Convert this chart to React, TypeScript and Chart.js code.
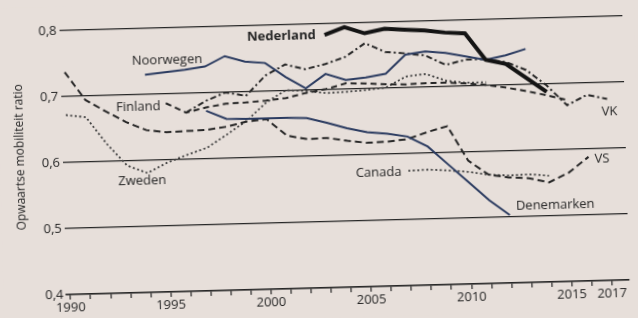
import React, { useEffect, useRef } from "react";
import { Chart, registerables } from "chart.js";

Chart.register(...registerables);

// ---------- data ----------
const nederlandYears = [2003, 2004, 2005, 2006, 2007, 2008, 2009, 2010, 2011, 2012, 2013, 2014];
const nederlandValues = [0.783, 0.794, 0.784, 0.79, 0.788, 0.786, 0.782, 0.78, 0.739, 0.732, 0.71, 0.688];

const noorwegenYears = [1994, 1995, 1996, 1997, 1998, 1999, 2000, 2001, 2002, 2003, 2004, 2005, 2006, 2007, 2008, 2009, 2010, 2011, 2012, 2013];
const noorwegenValues = [0.73, 0.733, 0.736, 0.74, 0.755, 0.746, 0.743, 0.721, 0.703, 0.724, 0.714, 0.717, 0.722, 0.75, 0.754, 0.751, 0.745, 0.739, 0.745, 0.754];

const denemarkenYears = [1997, 1998, 1999, 2000, 2001, 2002, 2003, 2004, 2005, 2006, 2007, 2008, 2009, 2010, 2011, 2012];
const denemarkenValues = [0.673, 0.66, 0.659, 0.659, 0.659, 0.658, 0.65, 0.641, 0.634, 0.631, 0.626, 0.61, 0.582, 0.554, 0.526, 0.503];

const finlandYears = [1995, 1996, 1997, 1998, 1999, 2000, 2001, 2002, 2003, 2004, 2005, 2006, 2007, 2008, 2009, 2010, 2011, 2012, 2013, 2014, 2015];
const finlandValues = [0.686, 0.671, 0.678, 0.683, 0.684, 0.686, 0.689, 0.696, 0.701, 0.709, 0.708, 0.706, 0.705, 0.706, 0.706, 0.704, 0.701, 0.696, 0.69, 0.683, 0.675];

const vkYears = [1996, 1997, 1998, 1999, 2000, 2001, 2002, 2003, 2004, 2005, 2006, 2007, 2008, 2009, 2010, 2011, 2012, 2013, 2014, 2015, 2016, 2017];
const vkValues = [0.671, 0.688, 0.7, 0.694, 0.724, 0.74, 0.732, 0.739, 0.749, 0.769, 0.755, 0.752, 0.748, 0.733, 0.74, 0.74, 0.735, 0.722, 0.698, 0.667, 0.682, 0.675];

const vsYears = [1990, 1991, 1992, 1993, 1994, 1995, 1996, 1997, 1998, 1999, 2000, 2001, 2002, 2003, 2004, 2005, 2006, 2007, 2008, 2009, 2010, 2011, 2012, 2013, 2014, 2015, 2016];
const vsValues = [0.737, 0.694, 0.676, 0.659, 0.646, 0.642, 0.643, 0.644, 0.648, 0.655, 0.658, 0.632, 0.626, 0.627, 0.622, 0.618, 0.619, 0.622, 0.632, 0.64, 0.587, 0.565, 0.56, 0.558, 0.551, 0.565, 0.588];

const zwedenYears = [1990, 1991, 1992, 1993, 1994, 1995, 1996, 1997, 1998, 1999, 2000, 2001, 2002, 2003, 2004, 2005, 2006, 2007, 2008, 2009, 2010, 2011];
const zwedenValues = [0.672, 0.668, 0.627, 0.593, 0.581, 0.596, 0.607, 0.617, 0.636, 0.656, 0.683, 0.701, 0.699, 0.695, 0.696, 0.698, 0.701, 0.717, 0.72, 0.709, 0.705, 0.705];

const canadaYears = [2007, 2008, 2009, 2010, 2011, 2012, 2013, 2014];
const canadaValues = [0.574, 0.575, 0.573, 0.57, 0.565, 0.563, 0.564, 0.561];

const xTickYears = [1990, 1991, 1992, 1993, 1994, 1995, 1996, 1997, 1998, 1999, 2000, 2001, 2002, 2003, 2004, 2005, 2006, 2007, 2008, 2009, 2010, 2011, 2012, 2013, 2014, 2015, 2016, 2017];
const xLabelYears = [1990, 1995, 2000, 2005, 2010, 2015, 2017];
const yTickValues = [0.4, 0.5, 0.6, 0.7, 0.8];

const labelNames = ["Nederland", "Noorwegen", "Finland", "Zweden", "Canada", "Denemarken", "VK", "VS"];
const labelYears = [2000.85, 1995.12, 1993.63, 1993.73, 2005.52, 2014.28, 2017.1, 2016.67];
const labelValues = [0.7835, 0.7515, 0.681, 0.5694, 0.5723, 0.5165, 0.6557, 0.585];

// ---------- styles ----------
const PAPER = "#e7dfda";
const INK = "#262626";
const BLUE = "#2b3b60";
const FONT = '"Open Sans", "Noto Sans", "DejaVu Sans", sans-serif';

function series(label: string, years: number[], values: number[], color: string, width: number, dash: number[], order: number) {
  return {
    label,
    data: years.map((x, i) => ({ x, y: values[i] })),
    borderColor: color,
    backgroundColor: color,
    borderWidth: width,
    borderDash: dash,
    pointRadius: 0,
    pointHoverRadius: 0,
    fill: false,
    tension: 0,
    order,
  };
}

const labelPlugin = {
  id: "seriesLabels",
  afterDatasetsDraw(chart: any) {
    const { ctx, scales } = chart;
    const x = scales.x;
    const y = scales.y;
    ctx.save();
    ctx.fillStyle = INK;
    ctx.textAlign = "center";
    ctx.textBaseline = "middle";
    labelNames.forEach((name, i) => {
      ctx.font = `${i === 0 ? "bold " : ""}13px ${FONT}`;
      ctx.fillText(name, x.getPixelForValue(labelYears[i]), y.getPixelForValue(labelValues[i]));
    });
    ctx.restore();
  },
};

export default function App() {
  const ref = useRef<HTMLCanvasElement>(null);

  useEffect(() => {
    document.body.style.margin = "0";
    document.body.style.background = PAPER;
    document.body.style.overflow = "hidden";
    document.documentElement.style.overflow = "hidden";

    const chart = new Chart(ref.current as HTMLCanvasElement, {
      type: "line",
      data: {
        datasets: [
          series("Nederland", nederlandYears, nederlandValues, "#141414", 4, [], 0),
          series("Noorwegen", noorwegenYears, noorwegenValues, BLUE, 2, [], 1),
          series("Denemarken", denemarkenYears, denemarkenValues, BLUE, 2, [], 1),
          series("Finland", finlandYears, finlandValues, INK, 2, [6, 4], 2),
          series("VK", vkYears, vkValues, INK, 2, [6, 3, 2, 3], 2),
          series("VS", vsYears, vsValues, INK, 2, [7, 4], 2),
          series("Zweden", zwedenYears, zwedenValues, "#404040", 1.8, [2, 2.5], 3),
          series("Canada", canadaYears, canadaValues, "#404040", 1.8, [2, 2.5], 3),
        ] as any,
      },
      options: {
        animation: false,
        responsive: false,
        layout: { padding: { top: 9, right: 12, left: 0, bottom: 0 } },
        plugins: { legend: { display: false }, tooltip: { enabled: false } },
        scales: {
          x: {
            type: "linear",
            min: 1989.8,
            max: 2017.87,
            afterBuildTicks: (s: any) => {
              s.ticks = xTickYears.map((value) => ({ value }));
            },
            afterFit: (s: any) => {
              s.height = 30;
            },
            grid: { drawOnChartArea: false, drawTicks: true, tickLength: 5, color: INK, lineWidth: 1.2 },
            border: { display: true, color: INK, width: 1.5 },
            ticks: {
              autoSkip: false,
              maxRotation: 0,
              padding: 0,
              color: INK,
              font: { family: FONT, size: 13 },
              callback: (v: any) => (xLabelYears.includes(Number(v)) ? String(v) : ""),
            },
          },
          y: {
            min: 0.4,
            max: 0.82,
            afterBuildTicks: (s: any) => {
              s.ticks = yTickValues.map((value) => ({ value }));
            },
            afterFit: (s: any) => {
              s.width = 63;
            },
            grid: { drawTicks: false, color: INK, lineWidth: 1.2 },
            border: { display: false },
            ticks: {
              padding: 3,
              color: INK,
              font: { family: FONT, size: 13 },
              callback: (v: any) => Number(v).toFixed(1).replace(".", ","),
            },
            title: {
              display: true,
              text: "Opwaartse mobiliteit ratio",
              color: INK,
              font: { family: FONT, size: 12 },
              padding: { top: 13, bottom: 0 },
            },
          },
        },
      } as any,
      plugins: [labelPlugin],
    });
    return () => chart.destroy();
  }, []);

  return (
    <div
      style={{
        width: 638,
        height: 318,
        background: PAPER,
        transform: "rotate(-1.5deg)",
        transformOrigin: "50% 50%",
      }}
    >
      <canvas ref={ref} width={638} height={318} style={{ display: "block" }} />
    </div>
  );
}
